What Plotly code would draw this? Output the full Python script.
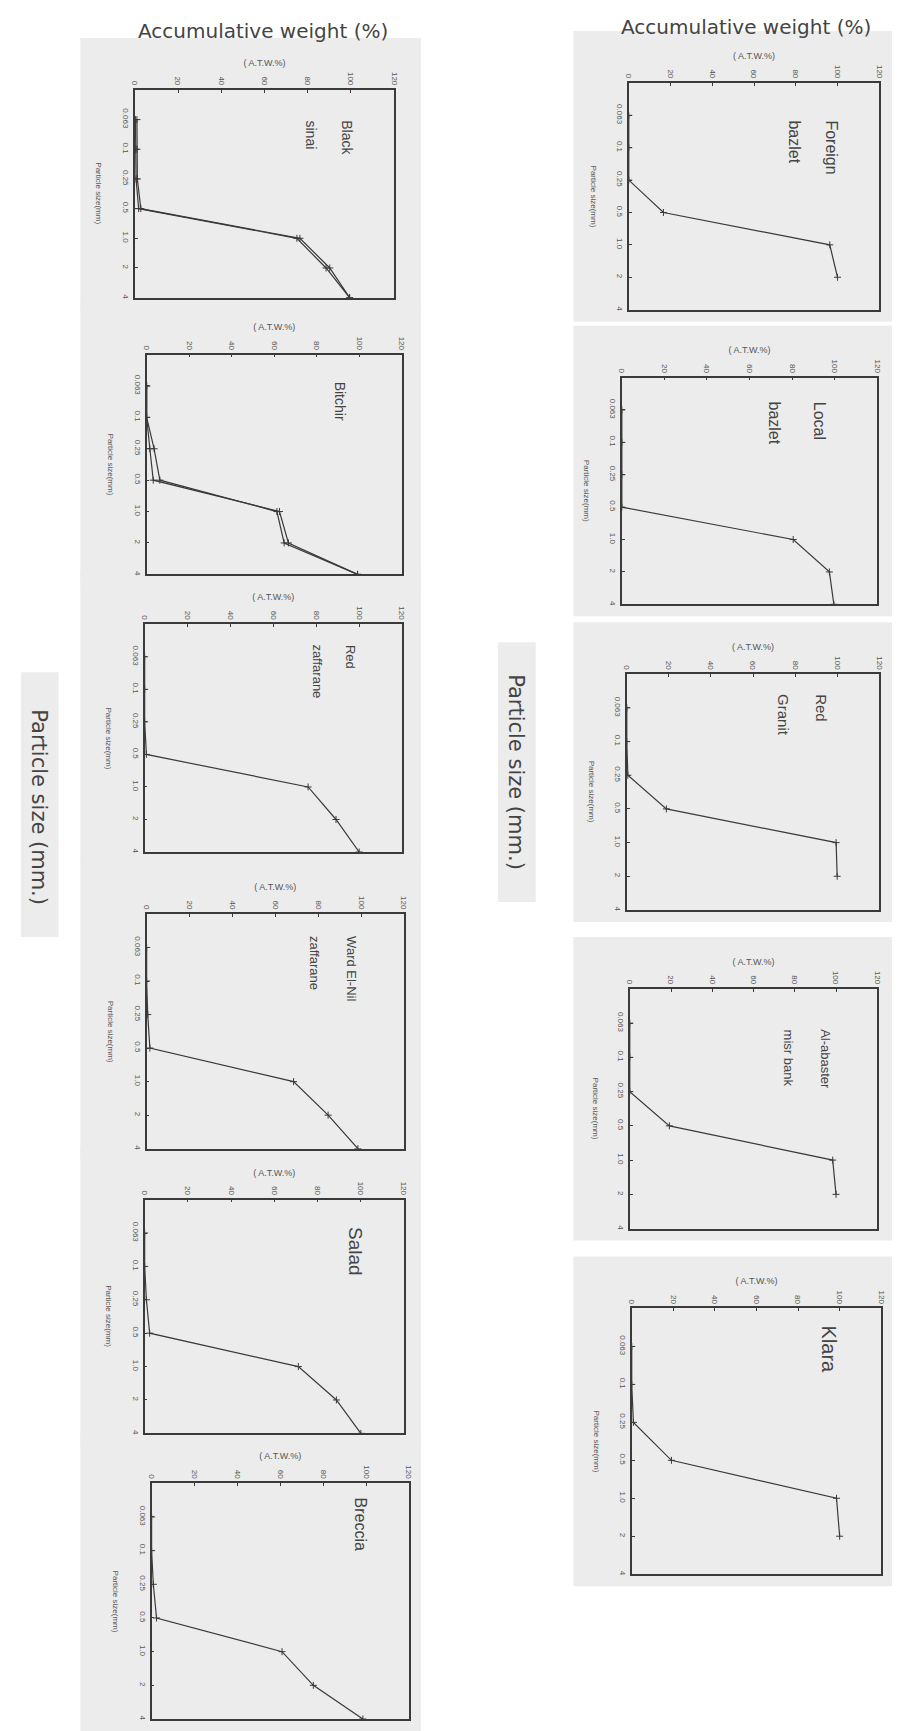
import plotly.graph_objects as go

# ---------------- data ----------------
SIZE_LABELS = ["0.063", "0.1", "0.25", "0.5", "1.0", "2", "4"]
ATW_TICKS = [0, 20, 40, 60, 80, 100, 120]

black_sinai_a = [1.0, 1.0, 1.2, 2.8, 76.4, 90.2, 99.4]
black_sinai_b = [0.3, 0.4, 0.6, 1.8, 75.0, 88.5, 99.4]
bitchir_a = [0, 0, 3.5, 6.2, 61.2, 64.6, 99.1]
bitchir_b = [0, 0, 1.5, 3.1, 62.4, 66.6, 99.1]
red_zaffarane = [0, 0, 0, 0.8, 76.2, 89.2, 100]
ward_el_nil = [0, 0, 0.5, 1.5, 68.5, 84.6, 98.5]
salad = [0, 0, 0.8, 2.3, 71.1, 88.7, 100]
breccia = [0, 0, 0.8, 2.3, 60.8, 75.4, 98.5]
foreign_bazlet = [0, 0, 0, 16.6, 96.3, 100]
local_bazlet = [0, 0, 0, 0, 80.5, 97.5, 99.6]
red_granit = [0, 0, 0.5, 18.8, 99.5, 100]
alabaster_misr_bank = [0, 0, 0, 19.2, 98.4, 100]
klara = [0, 0, 0.8, 19.1, 98.5, 100]

NAMES = ["Black|sinai", "Bitchir", "Red|zaffarane", "Ward El-Nil|zaffarane",
         "Salad", "Breccia", "Foreign|bazlet", "Local|bazlet", "Red|Granit",
         "Al-abaster|misr bank", "Klara"]
SERIES = [[black_sinai_a, black_sinai_b], [bitchir_a, bitchir_b], [red_zaffarane],
          [ward_el_nil], [salad], [breccia], [foreign_bazlet], [local_bazlet],
          [red_granit], [alabaster_misr_bank], [klara]]

# ---------------- layout (pixel frames: x0, x1, y0, y1) ----------------
W, H = 900, 1731
FRAMES = [
    (123, 385, 82, 290), (135, 393, 347, 567), (133, 393, 617, 845),
    (135, 395, 907, 1142), (133, 395, 1193, 1427), (140, 400, 1477, 1713),
    (622, 875, 75, 302), (615, 873, 370, 597), (620, 875, 667, 903),
    (623, 873, 982, 1222), (625, 877, 1302, 1568),
]
# name label placement: (x fraction of line1, x fraction of line2, top y fraction from top, font size)
NAME_POS = [
    (0.82, 0.68, 0.136, 14), (0.755, 0.62, 0.114, 14), (0.80, 0.67, 0.08, 13),
    (0.795, 0.65, 0.085, 13), (0.815, 0.68, 0.107, 19), (0.81, 0.68, 0.05, 16),
    (0.81, 0.66, 0.155, 16), (0.774, 0.597, 0.096, 16), (0.77, 0.62, 0.077, 15),
    (0.793, 0.64, 0.16, 13), (0.79, 0.65, 0.056, 20),
]

FONT = "Liberation Sans, Arial, sans-serif"
BIGFONT = "DejaVu Sans, sans-serif"
INK = "#3a3a3a"
TXT = "#555555"

fig = go.Figure()
shapes = []
annotations = []
layout_axes = {}

for i, (name, series, fr, npos) in enumerate(zip(NAMES, SERIES, FRAMES, NAME_POS)):
    k = "" if i == 0 else str(i + 1)
    x0, x1, y0, y1 = fr
    xd = [x0 / W, x1 / W]
    yd = [1 - y1 / H, 1 - y0 / H]
    for s in series:
        fig.add_trace(go.Scatter(
            x=s, y=list(range(1, len(s) + 1)), mode="lines+markers",
            line=dict(color=INK, width=1.2),
            marker=dict(symbol="cross-thin", size=5, line=dict(color=INK, width=1)),
            xaxis="x" + k, yaxis="y" + k, showlegend=False, hoverinfo="x+y"))
    layout_axes["xaxis" + k] = dict(
        domain=xd, anchor="y" + k, side="top", range=[0, 120], tickvals=ATW_TICKS,
        ticktext=[str(t) for t in ATW_TICKS], tickangle=90,
        tickfont=dict(size=8, color=TXT, family=FONT),
        showline=True, mirror=True, linecolor=INK, linewidth=1.6,
        ticks="inside", ticklen=3, tickcolor=INK, showgrid=False, zeroline=False,
        title=dict(text="( A.T.W.%)", font=dict(size=9, color=TXT, family=FONT), standoff=4),
        fixedrange=True)
    layout_axes["yaxis" + k] = dict(
        domain=yd, anchor="x" + k, range=[7, 0], tickvals=list(range(1, 8)),
        ticktext=SIZE_LABELS, tickangle=90,
        tickfont=dict(size=8, color=TXT, family=FONT),
        showline=True, mirror=True, linecolor=INK, linewidth=1.6,
        ticks="inside", ticklen=3, tickcolor=INK, showgrid=False, zeroline=False,
        fixedrange=True)
    # gray scanned-paper backing
    bx0, bx1 = (68, 412) if x0 < 450 else (566, 900)
    shapes.append(dict(type="rect", xref="paper", yref="paper", layer="below",
                       x0=bx0 / W, x1=bx1 / W, y0=1 - (y1 + 12) / H, y1=1 - (y0 - 52) / H,
                       fillcolor="#ececec", line=dict(width=0)))
    # sample name (rotated)
    lines = name.split("|")
    fx = [npos[0], npos[1]]
    for j, ln in enumerate(lines):
        annotations.append(dict(
            text=ln, xref="x" + k + " domain", yref="y" + k + " domain",
            x=fx[j], y=1 - npos[2], xanchor="center", yanchor="top", textangle=90,
            showarrow=False, font=dict(size=npos[3], color="#444", family=FONT)))
    # particle size axis title (rotated)
    annotations.append(dict(
        text="Particle size(mm)", xref="x" + k + " domain", yref="y" + k + " domain",
        x=-0.14, y=0.5, xanchor="center", yanchor="middle", textangle=90,
        showarrow=False, font=dict(size=8, color=TXT, family=FONT)))

# big labels
annotations += [
    dict(text="Accumulative weight (%)", xref="paper", yref="paper", x=253 / W, y=1 - 23 / H,
         xanchor="center", yanchor="middle", showarrow=False,
         font=dict(size=20, color="#444", family=BIGFONT)),
    dict(text="Accumulative weight (%)", xref="paper", yref="paper", x=740 / W, y=1 - 19 / H,
         xanchor="center", yanchor="middle", showarrow=False,
         font=dict(size=20, color="#444", family=BIGFONT)),
    dict(text="Particle size (mm.)", xref="paper", yref="paper", x=26 / W, y=1 - 800 / H,
         xanchor="center", yanchor="middle", textangle=90, showarrow=False,
         font=dict(size=21, color="#444", family=BIGFONT)),
    dict(text="Particle size (mm.)", xref="paper", yref="paper", x=508 / W, y=1 - 765 / H,
         xanchor="center", yanchor="middle", textangle=90, showarrow=False,
         font=dict(size=21, color="#444", family=BIGFONT)),
]
shapes += [
    dict(type="rect", xref="paper", yref="paper", layer="below", x0=8 / W, x1=46 / W,
         y0=1 - 930 / H, y1=1 - 665 / H, fillcolor="#ececec", line=dict(width=0)),
    dict(type="rect", xref="paper", yref="paper", layer="below", x0=490 / W, x1=528 / W,
         y0=1 - 895 / H, y1=1 - 635 / H, fillcolor="#ececec", line=dict(width=0)),
]

fig.update_layout(
    width=W, height=H, autosize=False, margin=dict(l=0, r=0, t=0, b=0),
    paper_bgcolor="white", plot_bgcolor="rgba(0,0,0,0)",
    shapes=shapes, annotations=annotations, showlegend=False,
    **layout_axes)

fig.write_html("out.html", config={"displayModeBar": False})
